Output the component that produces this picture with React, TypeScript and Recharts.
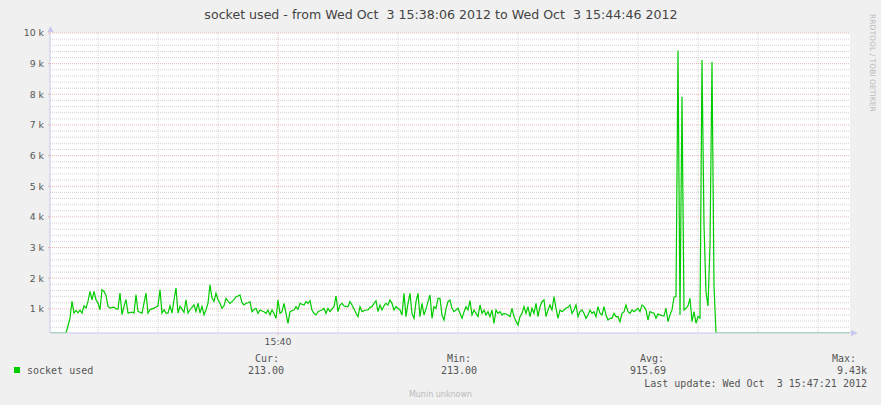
import { LineChart, Line, XAxis, YAxis, CartesianGrid } from "recharts"

// seconds after 15:38:06, one sample per second
const STEP_SEC = 1

const socketUsed = [
  213, 213, 213, 213, 213, 213, 213, 213, 213, 450,
  700, 1243, 863, 950, 870, 960, 863, 1102, 1026, 1243,
  1570, 1298, 1570, 1300, 1189, 972, 1624, 1570, 1440, 1080,
  1026, 1040, 1059, 1000, 993, 1515, 809, 1080, 1300, 863,
  880, 896, 863, 1461, 917, 890, 863, 1189, 1515, 863,
  972, 1000, 1026, 1059, 1100, 1624, 863, 972, 863, 863,
  1102, 863, 1298, 1678, 863, 1080, 993, 885, 1298, 863,
  972, 1050, 1135, 917, 1189, 863, 1080, 809, 972, 1189,
  1787, 1352, 1243, 1507, 1300, 1181, 1018, 1100, 1344, 1250,
  1181, 1235, 1300, 1398, 1420, 1453, 1200, 1127, 1181, 1200,
  1235, 909, 980, 1018, 855, 964, 930, 909, 855, 964,
  801, 964, 850, 692, 1290, 855, 909, 1181, 855, 529,
  909, 940, 964, 1072, 985, 1181, 1150, 1127, 1235, 1181,
  1268, 964, 850, 801, 909, 940, 964, 1018, 855, 1018,
  909, 1000, 1072, 1420, 909, 1127, 1181, 1100, 1072, 1072,
  1235, 1127, 1000, 855, 746, 1072, 909, 940, 964, 964,
  1050, 1072, 1181, 1268, 909, 1127, 964, 1100, 1181, 1127,
  1290, 1181, 964, 1072, 1018, 964, 801, 1507, 746, 1181,
  1507, 850, 692, 1235, 1507, 746, 1181, 801, 1000, 1235,
  1453, 692, 1072, 1018, 1344, 1344, 801, 637, 1000, 1235,
  1290, 1018, 909, 964, 1018, 855, 692, 900, 1072, 964,
  1268, 801, 964, 855, 746, 1127, 855, 964, 801, 909,
  746, 964, 529, 964, 855, 909, 801, 855, 833, 801,
  746, 1018, 746, 600, 474, 746, 855, 1072, 855, 1072,
  746, 1018, 855, 1181, 746, 1072, 1235, 1290, 746, 964,
  1127, 964, 1398, 1018, 692, 964, 909, 964, 1018, 1050,
  1127, 855, 964, 1127, 746, 909, 964, 855, 692, 801,
  964, 855, 909, 746, 1072, 855, 801, 1072, 801, 637,
  692, 692, 855, 746, 746, 583, 855, 909, 1127, 909,
  855, 964, 909, 964, 1018, 912, 1129, 1075, 966, 640,
  912, 879, 858, 694, 836, 803, 780, 770, 1020, 586,
  803, 966, 1380, 1400, 9430, 803, 7923, 966, 1020, 1100,
  1347, 586, 912, 531, 749, 694, 9119, 3738, 1550, 1097,
  3086, 9064, 1749, 213, 213, 213, 213, 213, 213, 213,
  213, 213, 213, 213, 213, 213, 213, 213, 213, 213,
  213, 213, 213, 213, 213, 213, 213, 213, 213, 213,
  213, 213, 213, 213, 213, 213, 213, 213, 213, 213,
  213, 213, 213, 213, 213, 213, 213, 213, 213, 213,
  213, 213, 213, 213, 213, 213, 213, 213, 213, 213,
  213, 213, 213, 213, 213, 213, 213, 213, 213, 213,
  213
]

const yMajorTicks = [1000, 2000, 3000, 4000, 5000, 6000, 7000, 8000, 9000, 10000]
const yMinorTicks = [
  400, 600, 800, 1200, 1400, 1600, 1800, 2200, 2400, 2600, 2800,
  3200, 3400, 3600, 3800, 4200, 4400, 4600, 4800, 5200, 5400, 5600, 5800,
  6200, 6400, 6600, 6800, 7200, 7400, 7600, 7800, 8200, 8400, 8600, 8800,
  9200, 9400, 9600, 9800
]
const xMinorTimes = [24, 54, 84, 144, 174, 204, 234, 264, 294, 324, 354, 384]
const xMajorTimes = [114]
const xMajorLabels = ["15:40"]

const stats = [
  { label: "Cur:", value: "213.00", lx: 255, vx: 248 },
  { label: "Min:", value: "213.00", lx: 447, vx: 441 },
  { label: "Avg:", value: "915.69", lx: 640, vx: 630 }
]

const TITLE = "socket used - from Wed Oct  3 15:38:06 2012 to Wed Oct  3 15:44:46 2012"

const data = socketUsed.map((v, i) => ({ t: i * STEP_SEC, v }))

const MONO = "'DejaVu Sans Mono', monospace"
const SANS = "'DejaVu Sans', sans-serif"
const AXIS = "#c8c8ee"
const MGRID = "#eab4b4"

export default function App() {
  return (
    <div style={{ position: "absolute", left: 0, top: 0, width: 881, height: 405, background: "#f0f0f0" }}>

      <LineChart width={881} height={405} data={data} margin={{ top: 33, right: 31, bottom: 0, left: 0 }}>

        <CartesianGrid
          fill="#ffffff"
          stroke="#d2d2d2"
          strokeDasharray="1 1"
          horizontalValues={yMinorTicks}
          verticalValues={xMinorTimes}
        />
        <CartesianGrid
          stroke={MGRID}
          strokeDasharray="1 1"
          horizontalValues={yMajorTicks}
          verticalValues={xMajorTimes}
        />

        <XAxis
          dataKey="t"
          type="number"
          domain={[0, 400]}
          ticks={xMajorTimes}
          tickFormatter={(v: number) => xMajorLabels[xMajorTimes.indexOf(v)] ?? ""}
          height={72}
          stroke={AXIS}
          tickSize={2}
          tickMargin={3}
          tickLine={{ stroke: MGRID }}
          tick={{ fill: "#555", fontSize: 9.3, fontFamily: SANS }}
          allowDataOverflow
        />
        <YAxis
          type="number"
          domain={[213, 10000]}
          ticks={yMajorTicks}
          tickFormatter={(v: number) => `${v / 1000} k`}
          width={50}
          stroke={AXIS}
          tickSize={2}
          tickMargin={4}
          tickLine={{ stroke: MGRID }}
          tick={{ fill: "#555", fontSize: 9.3, fontFamily: SANS }}
          allowDataOverflow
          interval={0}
        />

        <Line
          dataKey="v"
          type="linear"
          stroke="#00cc00"
          strokeWidth={1.2}
          dot={false}
          isAnimationActive={false}
        />

      </LineChart>

      <svg width={881} height={405} style={{ position: "absolute", left: 0, top: 0, pointerEvents: "none" }}>

        <polygon points="47.5,32 53.5,32 50.5,26" fill={AXIS} />
        <polygon points="851,330 851,336 858,333" fill={AXIS} />

        <text x={441} y={18.5} textAnchor="middle" fontFamily={SANS} fontSize={12.6} fill="#444" style={{ whiteSpace: "pre" }}>
          {TITLE}
        </text>

        <text
          x={870}
          y={14}
          transform="rotate(90 870 14)"
          fontFamily={SANS}
          fontSize={7.6}
          fill="#bbb"
          style={{ whiteSpace: "pre" }}
        >
          RRDTOOL / TOBI OETIKER
        </text>

        <rect x={14} y={367} width={6} height={6} fill="#00cc00" />
        <text x={27} y={374} fontFamily={MONO} fontSize={10} fill="#555">socket used</text>

        {stats.map(s => (
          <g key={s.label}>
            <text x={s.lx} y={362} fontFamily={MONO} fontSize={10} fill="#555">{s.label}</text>
            <text x={s.vx} y={374} fontFamily={MONO} fontSize={10} fill="#555">{s.value}</text>
          </g>
        ))}

        <text x={832} y={362} fontFamily={MONO} fontSize={10} fill="#555">Max:</text>
        <text x={867} y={374} textAnchor="end" fontFamily={MONO} fontSize={10} fill="#555">9.43k</text>
        <text x={867} y={386.5} textAnchor="end" fontFamily={MONO} fontSize={10} fill="#555" style={{ whiteSpace: "pre" }}>
          Last update: Wed Oct  3 15:47:21 2012
        </text>

        <text x={440.5} y={397} textAnchor="middle" fontFamily={SANS} fontSize={8} fill="#bbb">Munin unknown</text>

      </svg>

    </div>
  )
}
